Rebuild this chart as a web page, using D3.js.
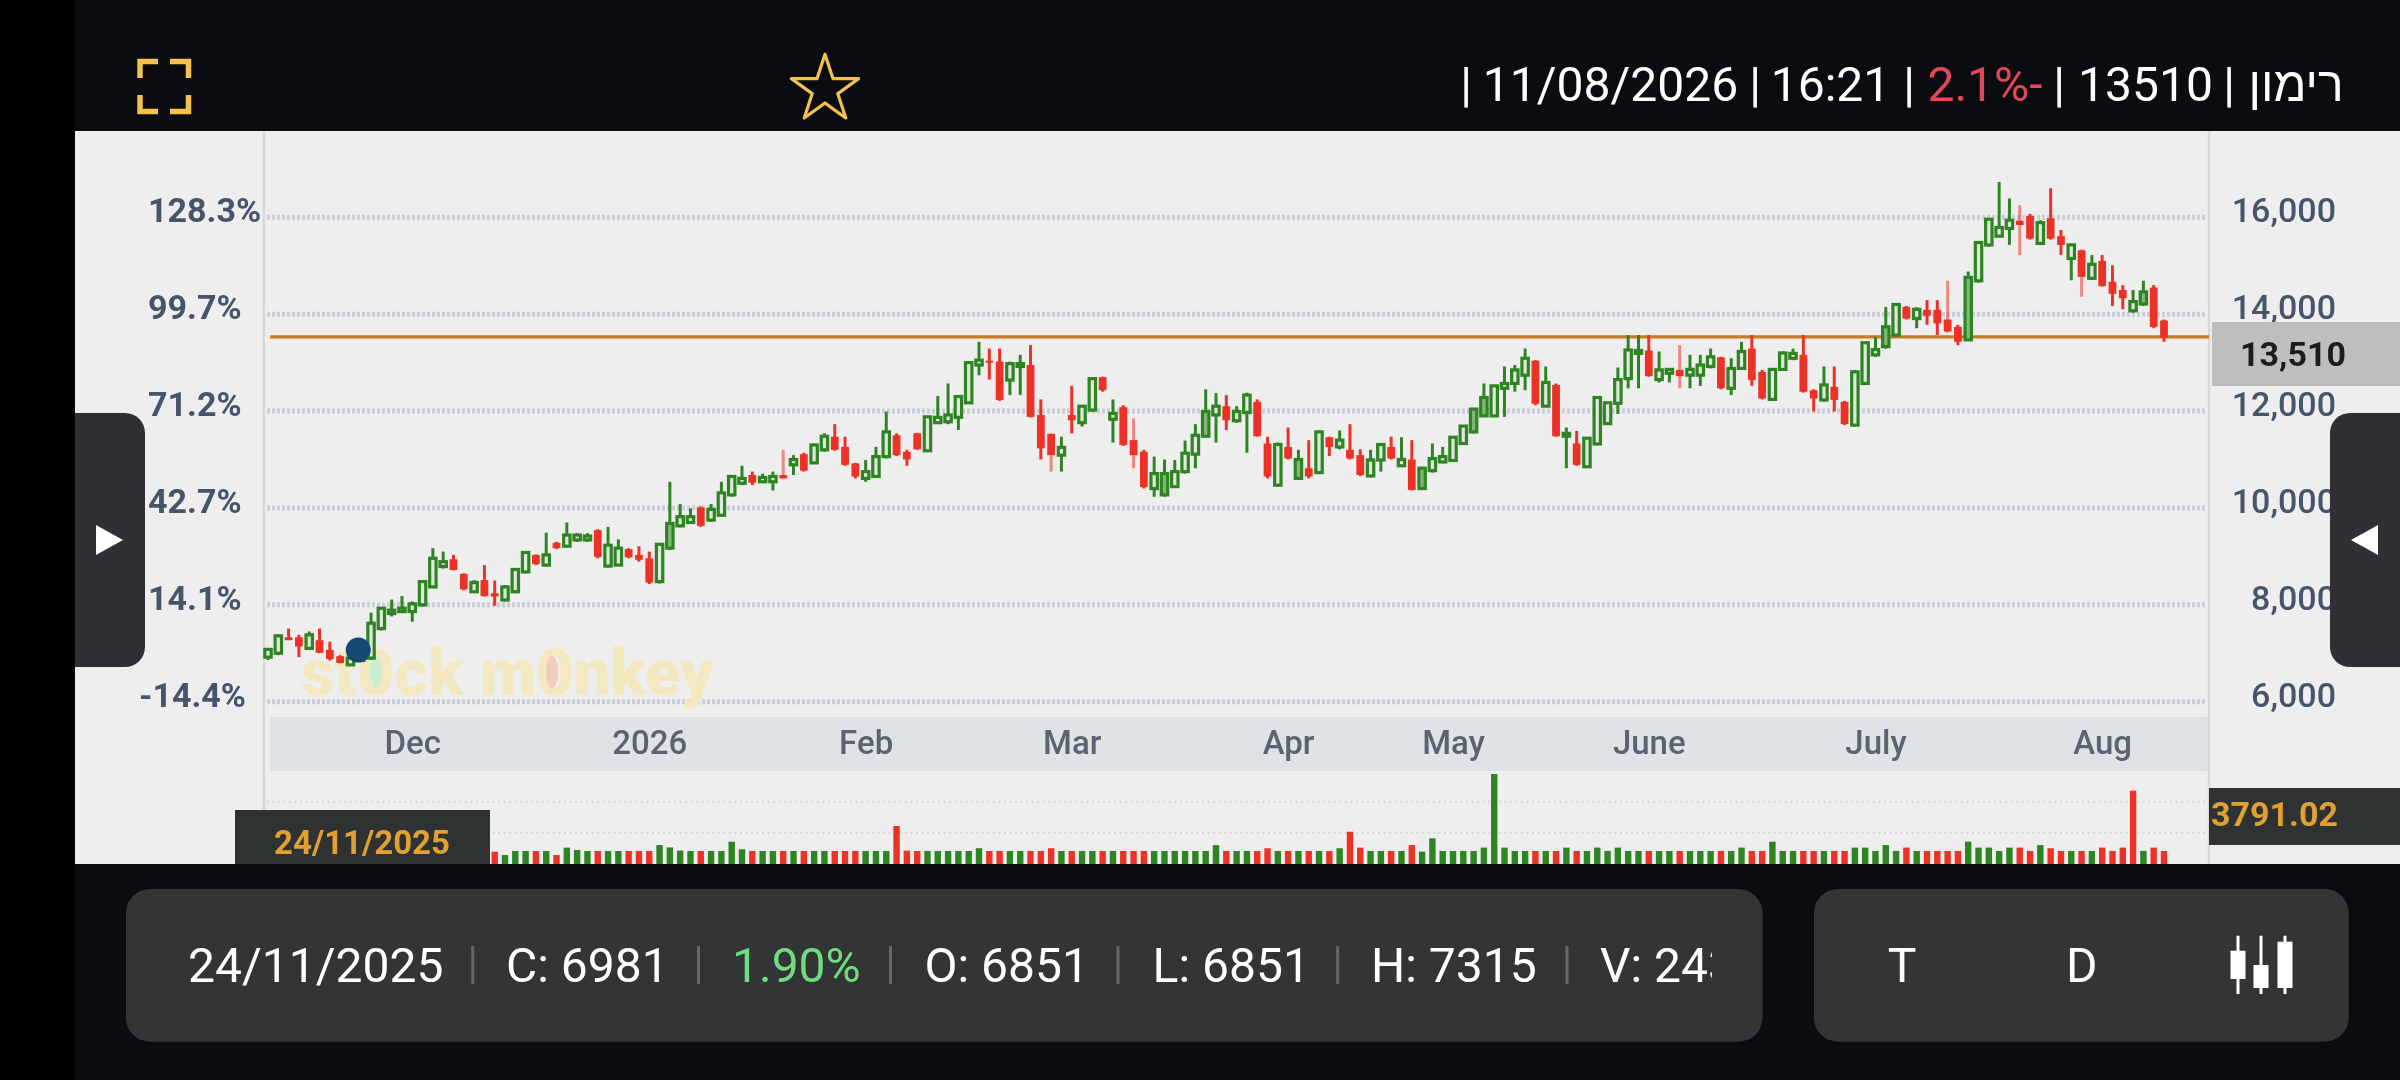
<!DOCTYPE html>
<html lang="he">
<head>
<meta charset="utf-8">
<script src="https://d3js.org/d3.v7.min.js"></script>
<style>
html,body{margin:0;padding:0;background:#0b0c0f;overflow:hidden}
svg{display:block}
text{font-family:Roboto,"Liberation Sans","DejaVu Sans",sans-serif}
</style>
</head>
<body>
<svg id="c" width="2400" height="1080" viewBox="0 0 2400 1080"></svg>
<script>
const directions = "GGRRGRRRGG"+"GGGGGGGGRR"+"GRRGGGRGRG"+"GGRGGRRRGG"+"GGRGGGGRGG"+"RGRGGRRRGG"+"GRRRGGGGGG"+"RRGGRRRGRG"+"GRGRRRGGGG"+"GGGRGGRRGR"+"GRGRGRRGGR"+"GRGGGGGGGG"+"GGGRGRGRGG"+"GGGGRGGRGG"+"GRGGRRGGGR"+"RGRRGGGGGR"+"GRRRRGGGGG"+"RRGRRGRGRR"+"RGGRR";
const highs = [7100,7380,7510,7380,7450,7510,7240,6960,6960,7315,
7840,7930,8110,8180,8070,8500,9170,9100,9030,8650,
8510,8820,8500,8410,8750,9100,9040,9490,9300,9700,
9480,9480,9560,9610,9350,9170,9210,9100,9270,10540,
10080,9990,10030,10080,10540,10680,10870,10750,10710,10750,
11200,11090,11140,11330,11540,11730,11470,10930,10990,11260,
11990,11540,11200,11550,11900,12310,12570,12330,13020,13430,
13290,13290,13020,13160,13360,12240,11540,11470,12520,12120,
12700,12710,12240,12120,11850,11200,11060,11000,10990,11390,
11730,12450,12370,12330,12100,12380,12240,11470,11350,11660,
11200,11400,11600,11470,11600,11730,11210,11200,11330,11470,
11460,11400,10850,11330,11260,11470,11710,12060,12570,12540,
12920,12950,13290,13050,12920,12570,11660,11590,11460,12310,
12190,12900,13570,13570,13570,13230,12880,13360,13160,13160,
13290,13120,13090,13430,13570,12850,12880,13230,13290,13570,
12450,12920,12920,12210,12850,13430,13530,14150,14220,14170,
14140,14290,14290,14690,13780,14880,15500,15980,16730,16390,
16250,16070,15940,16600,15740,15460,15340,15220,15220,15010,
14600,14500,14690,14600,13890];
const bodyTops = [7080,7360,7330,7330,7380,7270,7070,6940,6900,6981,
7620,7930,7890,7930,8020,8480,8960,8890,8940,8640,
8460,8510,8240,8370,8730,9080,9030,9030,9280,9440,
9440,9420,9540,9230,9170,9150,9030,8960,9250,9680,
9820,9820,10010,9970,10310,10650,10610,10680,10630,10650,
10680,11000,11110,11300,11480,11470,11260,10920,10750,11060,
11570,11500,11160,11540,11880,11870,11920,12300,13000,13050,
13040,13020,12980,12980,12950,11920,11530,11250,11920,12100,
12670,12700,11950,12080,11400,11160,10710,10710,10750,11130,
11500,11990,12100,12100,11990,12330,12190,11330,11310,11260,
11000,10820,11570,11460,11400,11200,11090,10990,11310,11260,
11000,11000,10820,11020,11060,11460,11690,12040,12280,12520,
12570,12850,13090,13040,12590,12540,11540,11330,11440,12280,
12170,12650,13260,13250,13250,12850,12860,12850,12860,12950,
13120,13110,12880,13230,13290,12810,12860,13200,13190,13160,
12430,12540,12500,12190,12810,13410,13270,13740,14200,14150,
14100,14090,14090,13890,13740,14760,15480,15960,15790,15940,
15930,16030,15890,15980,15610,15430,15320,15030,15100,14670,
14500,14260,14460,14550,13870];
const bodyBottoms = [6920,7000,7270,7140,7100,7010,6880,6800,6760,6851,
6900,7510,7820,7860,7860,8000,8370,8790,8720,8320,
8270,8180,8170,8100,8270,8680,8840,8820,9170,9210,
9340,9340,8990,8800,8820,8980,8930,8460,8480,9170,
9630,9700,9630,9750,9850,10270,10510,10520,10540,10540,
10610,10890,10770,10930,11200,11200,10890,10650,10610,10650,
11060,11090,11000,11210,11180,11760,11780,11870,12170,12950,
13000,12230,12640,12920,11880,11230,11090,11090,11810,11760,
12020,12430,11830,11300,11090,10430,10400,10270,10440,10750,
11110,11480,11920,11810,11800,11970,11480,10650,10470,11020,
10610,10650,10730,11260,11260,11020,10680,10660,10990,11020,
10870,10370,10400,10770,10950,10980,11330,11570,11900,11900,
12470,12570,12740,12150,12100,11480,11480,10890,10850,11320,
11740,12160,12670,13190,12720,12650,12780,12720,12740,12740,
12920,12470,12470,12880,12640,12260,12240,12860,13090,12400,
12260,12230,12230,11730,11710,12570,13160,13330,13570,13910,
13910,13970,13810,13640,13430,13470,14690,15430,15610,15770,
15840,15560,15460,15560,15430,15150,14770,14740,14580,14420,
14330,14070,14210,13740,13510];
const lows = [6860,6960,7270,6920,7080,7000,6850,6790,6740,6851,
6860,7470,7760,7830,7650,7960,8340,8750,8710,8300,
8250,8170,7980,8070,8240,8650,8820,8790,9150,9190,
9300,9300,8960,8770,8800,8960,8890,8430,8440,9130,
9600,9670,9610,9710,9820,10230,10470,10470,10520,10360,
10600,10680,10750,10910,11160,11180,10870,10610,10540,10620,
11020,11070,10870,11200,11160,11750,11730,11610,12150,12740,
12650,12210,12330,12330,11870,11000,10750,10750,11540,11680,
11990,12400,11350,11280,10820,10400,10230,10230,10430,10710,
10820,11470,11350,11610,11760,11140,11470,10610,10440,11000,
10580,10610,10700,11070,11210,11000,10660,10630,10750,11000,
10850,10360,10370,10730,10920,10950,11300,11540,11880,11880,
11880,12400,12430,12120,12090,11470,10820,10870,10840,11300,
11730,11940,12470,12470,12710,12590,12590,12470,12470,12520,
12880,12450,12330,12850,12520,12240,12210,12830,13050,12380,
11990,12190,11990,11710,11680,12540,13120,13290,13530,13890,
13710,13780,13570,13620,13360,13450,14650,15390,15590,15430,
15220,15540,15430,15540,15220,14700,14360,14720,14570,14170,
14100,14030,14170,13710,13430];
const volumes = [1720,1720,1720,1720,1720,1720,1720,1720,1720,2430,
1720,1720,1720,1720,1720,1720,1720,1720,1720,1720,
1720,1720,1680,1480,1720,1720,1720,1720,1480,1920,
1780,1720,1720,1720,1720,1720,1720,1720,2070,1930,
1740,1720,1720,1720,1720,2270,1820,1720,1720,1720,
1720,1720,1720,1720,1720,1720,1720,1720,1720,1720,
1720,3200,1740,1720,1720,1720,1720,1720,1720,1880,
1720,1720,1720,1720,1720,1720,1880,1720,1720,1720,
1720,1720,1720,1720,1720,1720,1720,1720,1720,1720,
1720,1720,2070,1720,1720,1720,1720,1880,1720,1720,
1720,1720,1720,1720,1880,2860,1920,1720,1720,1720,
1720,2070,1680,2470,1720,1720,1720,1720,1920,6280,
1920,1720,1720,1720,1720,1720,1920,1720,1720,1920,
1720,1920,1720,1720,1720,1720,1720,1720,1720,1720,
1720,1720,1720,1920,1720,1720,2270,1720,1720,1720,
1720,1720,1720,1720,1920,1920,1720,2070,1720,1920,
1720,1720,1720,1720,1720,2270,1920,1920,1720,1920,
1920,1720,2070,1880,1720,1720,1720,1720,1920,1720,
1920,5290,1720,1920,1720];
const volumeColorFlips = [181];
const shadedCandles = [39,87,91,100,112,117,118,157,165,182];
const paleWicks = [50,76,84,137,163,170,176];
const priceTicks = [6000,8000,10000,12000,14000,16000];
const percentLabels = ["-14.4%","14.1%","42.7%","71.2%","99.7%","128.3%"];
const monthLabels = ["Dec","2026","Feb","Mar","Apr","May","June","July","Aug"];
const monthStarts = [14,37,58,78,99,115,134,156,178];
const volumeGrid = [2782,4635];
const lastPriceLabel = "13,510", priceLineLevel = 13530, markerIndex = 9, markerLevel = 7065;
const hoverDate = "24/11/2025", hoverVolumeLabel = "3791.02";
const headerItems = [["|","w"],["11/08/2026","w"],["|","w"],["16:21","w"],["|","w"],["2.1%-","r"],["|","w"],["13510","w"],["|","w"],["רימון","w"]];
const headerX = [1466,1610.5,1755,1830.5,1909,1985,2059,2145.5,2229,2296];
const footerItems = ["24/11/2025","C: 6981","1.90%","O: 6851","L: 6851","H: 7315","V: 243"];
const footerX = [188,506,732,924.5,1152.6,1371,1600];
const footerSeps = [472.7,698.5,890.5,1118,1337.7,1567];
const iconCandles = [{x:2238,t:950.7,b:979},{x:2261,t:965,b:988},{x:2285,t:941.7,b:988}];

const GREEN="#2f8424", RED="#ec3328", TICK="#46546a";
const svg=d3.select("#c");
const defs=svg.append("defs");
defs.append("filter").attr("id","soft").attr("x",0).attr("y",0).attr("width",1).attr("height",1)
  .attr("filterUnits","objectBoundingBox").append("feGaussianBlur").attr("stdDeviation",0.75);
defs.append("clipPath").attr("id","vclip").append("rect").attr("x",1560).attr("y",920).attr("width",152).attr("height",90);

const x=d3.scaleLinear().domain([0,highs.length-1]).range([268,2164]);
const y=d3.scaleLinear().domain([6000,16000]).range([701.7,217.3]);
const yVol=d3.scaleLinear().domain([0,6280]).range([880,774]);

svg.append("rect").attr("width",2400).attr("height",1080).attr("fill","#0b0c0f");
svg.append("rect").attr("width",75).attr("height",1080).attr("fill","#000");
svg.append("rect").attr("x",75).attr("y",131).attr("width",2325).attr("height",733).attr("fill","#eeeeee");

const chart=svg.append("g").attr("filter","url(#soft)");
chart.append("rect").attr("x",75).attr("y",131).attr("width",2325).attr("height",733).attr("fill","#eeeeee");
chart.selectAll("line.ax").data([264,2209]).join("line").attr("class","ax")
  .attr("x1",d=>d).attr("x2",d=>d).attr("y1",131).attr("y2",864).attr("stroke","#d9d9d9").attr("stroke-width",2.5);
chart.append("rect").attr("x",270).attr("y",717).attr("width",1938).attr("height",54).attr("fill","#dfe2e7");

chart.selectAll("line.grid").data(priceTicks).join("line").attr("class","grid")
  .attr("x1",267).attr("x2",2207).attr("y1",d=>y(d)).attr("y2",d=>y(d))
  .attr("stroke","#c9ced8").attr("stroke-width",5).attr("stroke-dasharray","3 2");
chart.selectAll("line.vgrid").data(volumeGrid).join("line").attr("class","vgrid")
  .attr("x1",267).attr("x2",2207).attr("y1",d=>yVol(d)).attr("y2",d=>yVol(d))
  .attr("stroke","#d8d8d8").attr("stroke-width",2).attr("stroke-dasharray","2 3.5");

// watermark
chart.append("text").attr("x",301).attr("y",695).attr("font-size",64).attr("font-weight",900)
  .attr("fill","#f4e8c0").attr("textLength",413).attr("lengthAdjust","spacingAndGlyphs").text("st0ck m0nkey");
chart.selectAll("ellipse.wm").data([{c:376,f:"#c9efcf"},{c:552,f:"#f0cdb9"}]).join("ellipse").attr("class","wm")
  .attr("cx",d=>d.c).attr("cy",672).attr("rx",6).attr("ry",16).attr("fill",d=>d.f);

// price line
chart.append("line").attr("x1",270).attr("x2",2209).attr("y1",y(priceLineLevel)).attr("y2",y(priceLineLevel))
  .attr("stroke","#c67a28").attr("stroke-width",3.2);

// candles
const idx=d3.range(highs.length);
const isUp=i=>directions[i]==="G";
const cg=chart.append("g");
cg.selectAll("line.wick").data(idx).join("line").attr("class","wick")
  .attr("x1",i=>x(i)).attr("x2",i=>x(i)).attr("y1",i=>y(highs[i])).attr("y2",i=>y(lows[i]))
  .attr("stroke",i=>isUp(i)?GREEN:RED).attr("stroke-width",3)
  .attr("stroke-opacity",i=>paleWicks.includes(i)?0.55:1);
cg.selectAll("rect.body").data(idx).join("rect").attr("class","body")
  .attr("x",i=>x(i)-(isUp(i)?3.2:3.9)).attr("width",i=>isUp(i)?6.4:7.8)
  .attr("y",i=>y(bodyTops[i])).attr("height",i=>Math.max(y(bodyBottoms[i])-y(bodyTops[i]),2))
  .attr("fill",i=>isUp(i)?(shadedCandles.includes(i)?"#86b57c":"#dfe8dc"):RED)
  .attr("stroke",i=>isUp(i)?GREEN:"none").attr("stroke-width",3.2);

chart.append("circle").attr("cx",x(markerIndex)-2.5).attr("cy",y(markerLevel)).attr("r",12.5).attr("fill","#184a72");

// volume
chart.selectAll("rect.vol").data(idx).join("rect").attr("class","vol")
  .attr("x",i=>x(i)-3.2).attr("width",6.4).attr("y",i=>yVol(volumes[i])).attr("height",i=>yVol(0)-yVol(volumes[i]))
  .attr("fill",i=>(isUp(i)!==volumeColorFlips.includes(i))?GREEN:RED);

// axes
const axR=chart.append("g").attr("transform","translate(2336,0)")
  .call(d3.axisRight(y).tickValues(priceTicks).tickFormat(d3.format(",")).tickSize(0).tickPadding(0));
const axL=chart.append("g").attr("transform","translate(149,0)")
  .call(d3.axisLeft(y).tickValues(priceTicks).tickFormat(d=>percentLabels[priceTicks.indexOf(d)]).tickSize(0).tickPadding(0));
const axB=chart.append("g").attr("transform","translate(0,742.5)")
  .call(d3.axisBottom(x).tickValues(monthStarts).tickFormat(d=>monthLabels[monthStarts.indexOf(d)]).tickSize(0).tickPadding(0));
[axR,axL,axB].forEach(a=>{a.select(".domain").remove();a.attr("font-family",null).attr("font-size",null);});
axR.selectAll("text").attr("text-anchor","end").attr("x",0).attr("y",-7.5).attr("dy","0.35em")
  .attr("font-size",34).attr("font-weight",500).attr("fill",TICK);
axL.selectAll("text").attr("text-anchor","start").attr("x",d=>d<7000?-10:-1).attr("y",-7.5).attr("dy","0.35em")
  .attr("font-size",34).attr("font-weight",700).attr("fill",TICK);
axB.selectAll("text").attr("text-anchor","middle").attr("y",0).attr("dy","0.35em")
  .attr("font-size",33).attr("font-weight",500).attr("fill","#5a6472");

// labels on chart
chart.append("rect").attr("x",2212).attr("y",322).attr("width",188).attr("height",64).attr("fill","#bebebe");
chart.append("text").attr("x",2293).attr("y",354).attr("dy","0.35em").attr("text-anchor","middle")
  .attr("font-size",34).attr("font-weight",700).attr("fill","#1e1e1e").text(lastPriceLabel);
chart.append("rect").attr("x",235).attr("y",810).attr("width",255).attr("height",60).attr("fill","#2f3033");
chart.append("text").attr("x",362).attr("y",842).attr("dy","0.35em").attr("text-anchor","middle")
  .attr("font-size",33).attr("font-weight",700).attr("fill","#e0a032").text(hoverDate);
chart.append("rect").attr("x",2209).attr("y",788).attr("width",191).attr("height",57).attr("fill","#2f3033");
chart.append("text").attr("x",2211).attr("y",814).attr("dy","0.35em")
  .attr("font-size",34).attr("font-weight",700).attr("fill","#e0a032").text(hoverVolumeLabel);

// bottom strip, covers the volume bases
svg.append("rect").attr("x",75).attr("y",864).attr("width",2325).attr("height",216).attr("fill","#0b0c0f");

// side panels
const panelL=d3.path();panelL.moveTo(75,413);panelL.lineTo(125,413);panelL.arcTo(145,413,145,433,20);panelL.lineTo(145,647);panelL.arcTo(145,667,125,667,20);panelL.lineTo(75,667);panelL.closePath();
svg.append("path").attr("d",panelL.toString()).attr("fill","#2f3033");
const panelR=d3.path();panelR.moveTo(2400,413);panelR.lineTo(2350,413);panelR.arcTo(2330,413,2330,433,20);panelR.lineTo(2330,647);panelR.arcTo(2330,667,2350,667,20);panelR.lineTo(2400,667);panelR.closePath();
svg.append("path").attr("d",panelR.toString()).attr("fill","#2f3033");
svg.append("path").attr("d","M96,525L123,540L96,555Z").attr("fill","#fff");
svg.append("path").attr("d","M2378,525L2351,540L2378,555Z").attr("fill","#fff");

// header
headerItems.forEach((h,i)=>{
  svg.append("text").attr("x",headerX[i]).attr("y",84).attr("dy","0.35em").attr("text-anchor","middle")
    .attr("direction","ltr").style("unicode-bidi","plaintext")
    .attr("font-size",48).attr("fill",h[1]==="r"?"#e2475a":"#fff").text(h[0]);
});
const fr=svg.append("g").attr("fill","none").attr("stroke","#f2c14e").attr("stroke-width",5.5);
["M140,78V61.5H158","M170,61.5H188.5V78","M140,95V111.5H158","M170,111.5H188.5V95"].forEach(d=>fr.append("path").attr("d",d));
svg.append("path").attr("d",d3.symbol(d3.symbolStar).size(1400)())
  .attr("transform","translate(825,89.5)").attr("fill","none").attr("stroke","#f2c14e").attr("stroke-width",3.2).attr("stroke-linejoin","round");

// footer
svg.append("rect").attr("x",126).attr("y",889).attr("width",1636.5).attr("height",152.7).attr("rx",24).attr("fill","#333436");
svg.append("rect").attr("x",1814).attr("y",889).attr("width",534.7).attr("height",152.7).attr("rx",24).attr("fill","#333436");
const ft=svg.append("g").attr("clip-path","url(#vclip)");
footerItems.forEach((t,i)=>{
  const tgt=i===footerItems.length-1?ft:svg;
  tgt.append("text").attr("x",footerX[i]).attr("y",965).attr("dy","0.35em").attr("font-size",48)
    .attr("fill",t.endsWith("%")?"#6fdc7f":"#fff").text(t);
});
svg.selectAll("line.sep").data(footerSeps).join("line").attr("class","sep")
  .attr("x1",d=>d).attr("x2",d=>d).attr("y1",946).attr("y2",984).attr("stroke","#666769").attr("stroke-width",3);
[["T",1902],["D",2081.7]].forEach(d=>svg.append("text").attr("x",d[1]).attr("y",965).attr("dy","0.35em")
  .attr("text-anchor","middle").attr("font-size",48).attr("fill","#fff").text(d[0]));
const ic=svg.append("g");
ic.selectAll("line").data(iconCandles).join("line").attr("x1",d=>d.x).attr("x2",d=>d.x).attr("y1",935.7).attr("y2",994).attr("stroke","#fff").attr("stroke-width",3);
ic.selectAll("rect").data(iconCandles).join("rect").attr("x",d=>d.x-7.5).attr("width",15).attr("y",d=>d.t).attr("height",d=>d.b-d.t).attr("fill","#fff");
</script>
</body>
</html>
